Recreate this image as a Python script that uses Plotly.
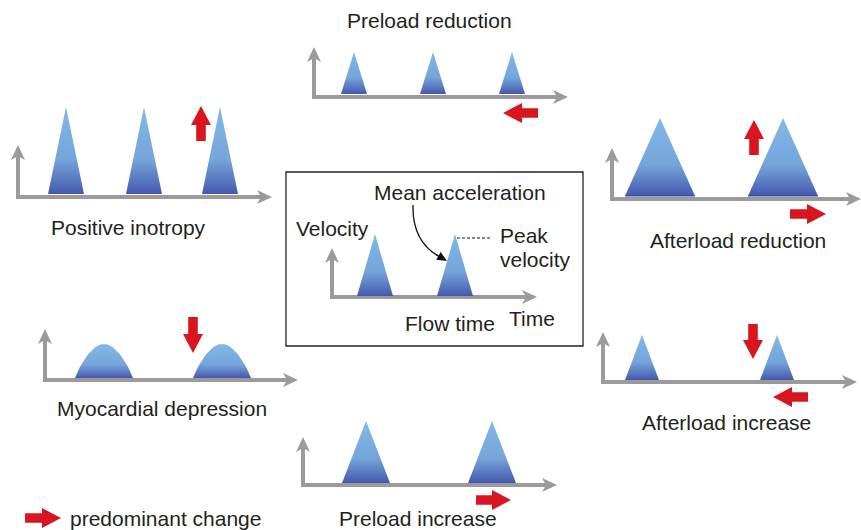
import numpy as np
import plotly.graph_objects as go

W, H = 861, 530

# ---- panel definitions (pixel positions measured from top-left) ----
PANEL_LABELS = ["Positive inotropy", "Preload reduction", "Afterload reduction",
                "Myocardial depression", "Afterload increase", "Preload increase"]
LABEL_X = [128, 429, 738, 162, 726, 418]
LABEL_Y = [227, 20, 240, 408, 422, 518]

AXIS_X0 = [18, 314, 612, 45, 603, 303, 332]
AXIS_Y0 = [197, 97, 199, 380, 382, 485, 297]
AXIS_X1 = [272, 568, 861, 298, 857, 557, 537]
AXIS_YTOP = [145, 47, 148, 329, 332, 437, 248]

PULSE_CENTERS = [[66, 144, 220], [354, 433, 512], [660, 783], [104, 222],
                 [642, 777], [366, 492], [375, 455]]
PULSE_HALFW = [18, 13, 35, 29, 17, 24, 18]
PULSE_BASE = [194, 94, 196, 378, 380, 483, 296]
PULSE_PEAK = [107, 52, 118, 344, 335, 421, 234]
PULSE_SHAPE = ["tri", "tri", "tri", "hump", "tri", "tri", "tri"]
PULSE_BASELINE = [False, False, True, False, False, False, False]

# red "predominant change" arrows: tail -> tip
CHANGE_TAIL = [(201, 141), (754, 155), (193, 317), (753, 324), (538, 113),
               (808, 397), (790, 214), (476, 500), (25, 518)]
CHANGE_TIP = [(201, 106), (754, 120), (193, 353), (753, 359), (503, 113),
              (773, 397), (826, 214), (511, 500), (61, 518)]

# centre box texts + legend text
BOX_TEXTS = ["Mean acceleration", "Velocity", "Peak", "velocity", "Flow time", "Time",
             "predominant change"]
BOX_TEXT_X = [460, 332, 498, 498, 450, 532, 68]
BOX_TEXT_Y = [192, 228, 235, 259, 323, 318, 518]
BOX_TEXT_ANCHOR = ["center", "center", "left", "left", "center", "center", "left"]

AXIS_COLOR = "#9b9b9c"
RED = "#d9161f"
TEXT_COLOR = "#231f20"
FONT = "Liberation Sans, Arial, sans-serif"
FONT_SIZE = 21
BLUE_SCALE = [[0, "#4557ad"], [0.12, "#5470bb"], [0.4, "#75a5da"], [1, "#82b8e7"]]


def Y(py):
    return H - py


fig = go.Figure()


def poly(xs, ys, color=None, gradient=None):
    xs = list(xs) + [xs[0]]
    ys = [Y(v) for v in ys] + [Y(ys[0])]
    kw = dict(x=xs, y=ys, mode="lines", fill="toself", line=dict(width=0),
              hoverinfo="skip", showlegend=False)
    if gradient is not None:
        kw["fillgradient"] = dict(type="vertical", colorscale=gradient)
        kw["fillcolor"] = gradient[-1][1]
    else:
        kw["fillcolor"] = color
    fig.add_trace(go.Scatter(**kw))


def arrow_poly(tail, tip, hl, hw, sw, color):
    t = np.array(tail, float)
    p = np.array(tip, float)
    d = p - t
    L = np.linalg.norm(d)
    d /= L
    n = np.array([-d[1], d[0]])
    neck = p - d * hl
    pts = [t + n * sw, neck + n * sw, neck + n * hw, p, neck - n * hw, neck - n * sw, t - n * sw]
    poly([q[0] for q in pts], [q[1] for q in pts], color=color)


# axes
for x0, y0, x1, yt in zip(AXIS_X0, AXIS_Y0, AXIS_X1, AXIS_YTOP):
    fig.add_trace(go.Scatter(x=[x0 - 2, x1 - 10], y=[Y(y0), Y(y0)], mode="lines",
                             line=dict(color=AXIS_COLOR, width=4), hoverinfo="skip",
                             showlegend=False))
    fig.add_trace(go.Scatter(x=[x0, x0], y=[Y(y0), Y(yt + 10)], mode="lines",
                             line=dict(color=AXIS_COLOR, width=4), hoverinfo="skip",
                             showlegend=False))
    poly([x1, x1 - 15, x1 - 11, x1 - 15], [y0, y0 - 7, y0, y0 + 7], color=AXIS_COLOR)
    poly([x0, x0 - 7, x0, x0 + 7], [yt, yt + 15, yt + 11, yt + 15], color=AXIS_COLOR)

# pulses
for centers, hw, base, peak, shape, bl in zip(PULSE_CENTERS, PULSE_HALFW, PULSE_BASE,
                                              PULSE_PEAK, PULSE_SHAPE, PULSE_BASELINE):
    for c in centers:
        if shape == "tri":
            poly([c - hw, c, c + hw], [base, peak, base], gradient=BLUE_SCALE)
        else:
            t = np.linspace(0, np.pi, 40)
            xs = c - hw + (2 * hw) * t / np.pi
            ys = base - (base - peak) * np.sin(t) ** 0.85
            poly(list(xs), list(ys), gradient=BLUE_SCALE)
        if bl:
            fig.add_trace(go.Scatter(x=[c - hw, c + hw], y=[Y(base), Y(base)], mode="lines",
                                     line=dict(color="#2f43a6", width=1.2),
                                     hoverinfo="skip", showlegend=False))

# red change arrows
for tail, tip in zip(CHANGE_TAIL, CHANGE_TIP):
    arrow_poly(tail, tip, hl=19, hw=10, sw=4.8, color=RED)

# curved "mean acceleration" arrow
fig.add_shape(type="path",
              path=f"M 413,{Y(205)} Q 412,{Y(242)} 440,{Y(257)}",
              xref="x", yref="y", line=dict(color="#111", width=1.3))
arrow_poly((436, 254.5), (447, 261), hl=10, hw=4.5, sw=0.6, color="#111")

# dashed peak line
fig.add_trace(go.Scatter(x=[457, 491], y=[Y(238), Y(238)], mode="lines",
                         line=dict(color="#111", width=1, dash="3px,2px"),
                         hoverinfo="skip", showlegend=False))

# centre box
fig.add_shape(type="rect", x0=286, x1=583, y0=Y(346), y1=Y(172), xref="x", yref="y",
              line=dict(color="#222", width=1.3))

# labels
for txt, x, y in zip(PANEL_LABELS, LABEL_X, LABEL_Y):
    fig.add_annotation(x=x, y=Y(y), text=txt, showarrow=False, xanchor="center",
                       yanchor="middle", font=dict(family=FONT, size=FONT_SIZE, color=TEXT_COLOR))
for txt, x, y, a in zip(BOX_TEXTS, BOX_TEXT_X, BOX_TEXT_Y, BOX_TEXT_ANCHOR):
    fig.add_annotation(x=x, y=Y(y), text=txt, showarrow=False, xanchor=a,
                       yanchor="middle", font=dict(family=FONT, size=FONT_SIZE, color=TEXT_COLOR))

fig.update_layout(
    width=W, height=H, margin=dict(l=0, r=0, t=0, b=0),
    paper_bgcolor="white", plot_bgcolor="white",
    xaxis=dict(range=[0, W], visible=False, fixedrange=True),
    yaxis=dict(range=[0, H], visible=False, fixedrange=True),
    showlegend=False,
)

fig.write_html("out.html", config={"displayModeBar": False},
               post_script="document.body.style.margin='0';document.body.style.overflow='hidden';")
